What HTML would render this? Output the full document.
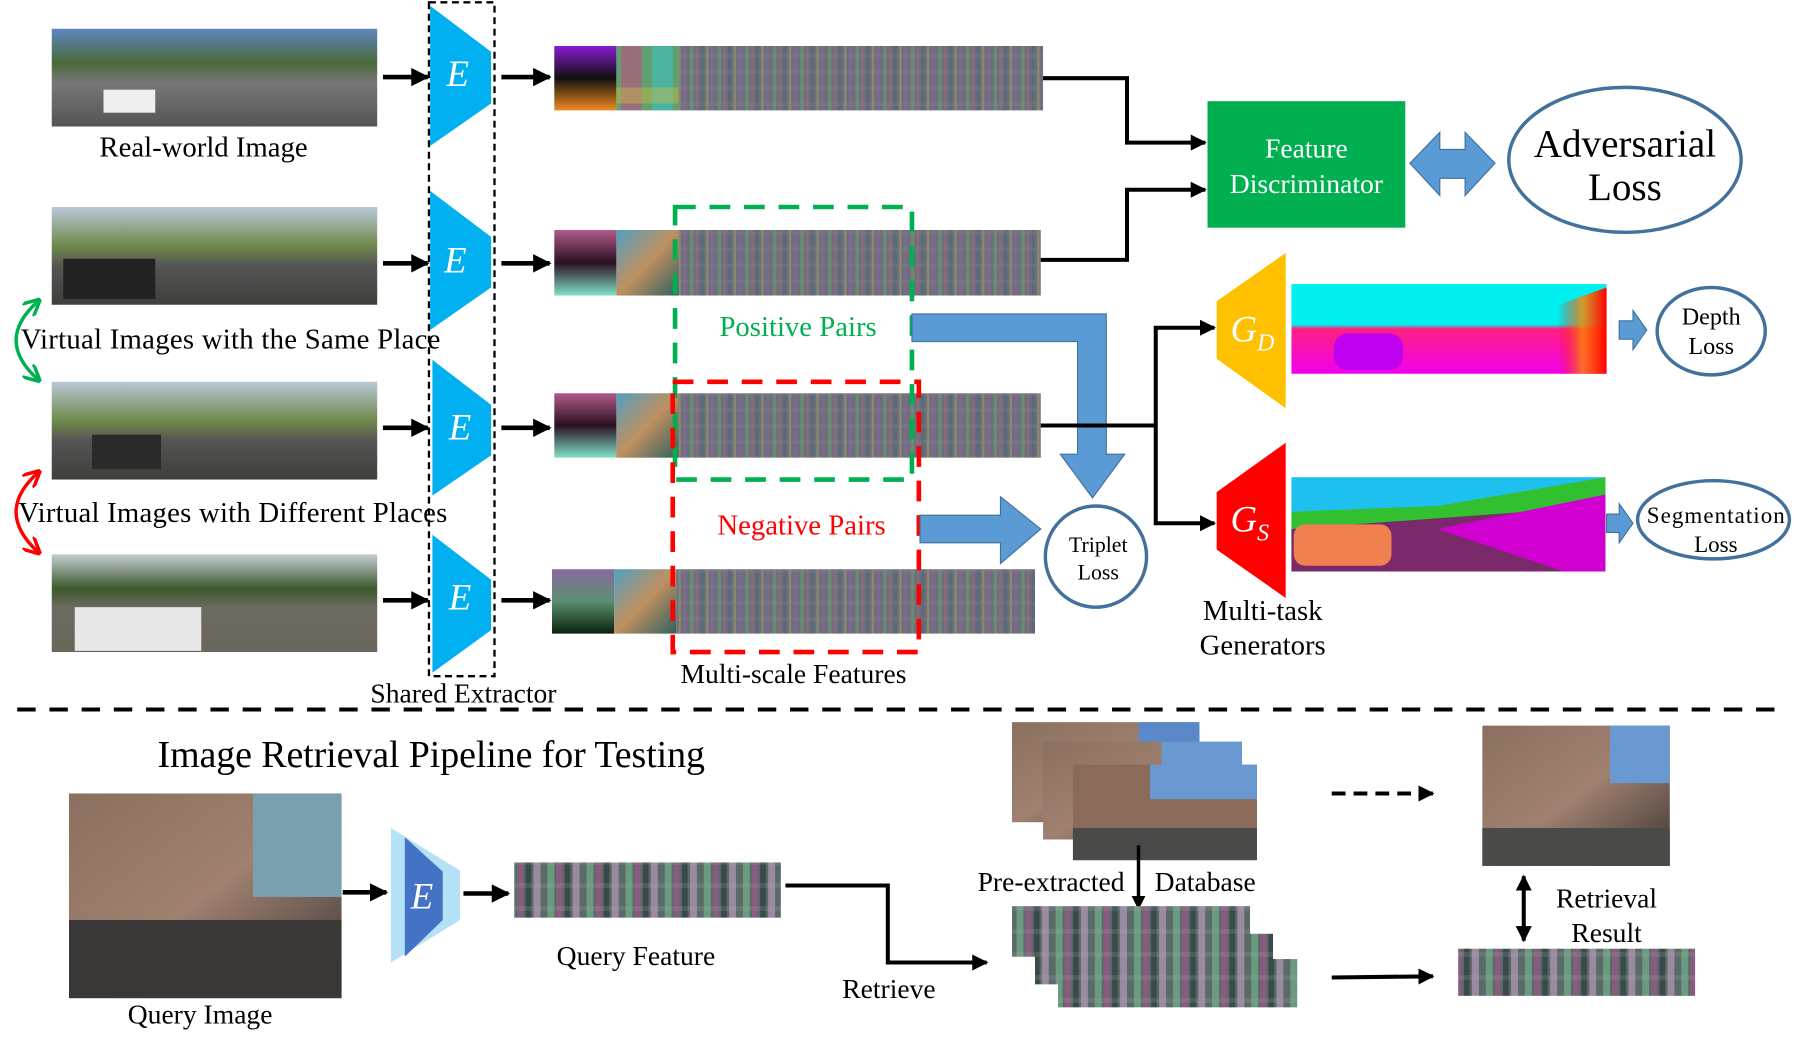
<!DOCTYPE html>
<html><head><meta charset="utf-8"><style>
html,body{margin:0;padding:0;background:#fff;overflow:hidden}
svg{display:block}
text{font-family:"Liberation Serif",serif;fill:#000}
</style></head><body>
<svg width="1794" height="1043" viewBox="0 0 1560 907" preserveAspectRatio="none" xmlns="http://www.w3.org/2000/svg">
<defs>
<linearGradient id="road" x1="0" y1="0" x2="0" y2="1"><stop offset="0" stop-color="#b9c8d8"/><stop offset="0.4" stop-color="#6f8a4a"/><stop offset="0.6" stop-color="#555"/><stop offset="1" stop-color="#3e3e3a"/></linearGradient>
<linearGradient id="road1" x1="0" y1="0" x2="0" y2="1"><stop offset="0" stop-color="#5f86c0"/><stop offset="0.35" stop-color="#4a6a3a"/><stop offset="0.55" stop-color="#777"/><stop offset="1" stop-color="#555"/></linearGradient>
<linearGradient id="road4" x1="0" y1="0" x2="0" y2="1"><stop offset="0" stop-color="#c5ccd2"/><stop offset="0.35" stop-color="#3c5a2c"/><stop offset="0.55" stop-color="#6d6a60"/><stop offset="1" stop-color="#6a665c"/></linearGradient>
<linearGradient id="bld" x1="0" y1="0" x2="1" y2="1"><stop offset="0" stop-color="#8a7060"/><stop offset="0.5" stop-color="#a08070"/><stop offset="1" stop-color="#3a3634"/></linearGradient>
<linearGradient id="f1" x1="0" y1="0" x2="0" y2="1"><stop offset="0" stop-color="#8a1ad0"/><stop offset="0.5" stop-color="#101010"/><stop offset="1" stop-color="#f08a20"/></linearGradient>
<linearGradient id="f2" x1="0" y1="0" x2="0" y2="1"><stop offset="0" stop-color="#b05a8a"/><stop offset="0.5" stop-color="#2a1020"/><stop offset="1" stop-color="#80e0c8"/></linearGradient>
<linearGradient id="f4" x1="0" y1="0" x2="0" y2="1"><stop offset="0" stop-color="#8a6aa0"/><stop offset="0.5" stop-color="#5a9070"/><stop offset="1" stop-color="#0a200a"/></linearGradient>
<linearGradient id="g2" x1="0" y1="0" x2="1" y2="1"><stop offset="0" stop-color="#50a0c0"/><stop offset="0.5" stop-color="#c09060"/><stop offset="1" stop-color="#306060"/></linearGradient>
<pattern id="noise" width="24" height="14" patternUnits="userSpaceOnUse">
<rect width="24" height="14" fill="#6e6e78"/><rect x="0" width="3" height="14" fill="#6a8a78"/><rect x="5" width="2" height="14" fill="#8a6a80"/><rect x="9" width="3" height="14" fill="#5a6a7a"/><rect x="14" width="2" height="14" fill="#8a8a70"/><rect x="18" width="3" height="14" fill="#7a6a90"/><rect x="0" y="5" width="24" height="3" fill="#888" opacity="0.25"/>
</pattern>
<pattern id="noise2" width="34" height="20" patternUnits="userSpaceOnUse">
<rect width="34" height="20" fill="#5a6a68"/><rect x="0" width="6" height="20" fill="#6a9a80"/><rect x="8" width="5" height="20" fill="#8a5a80"/><rect x="15" width="5" height="20" fill="#3a4a4a"/><rect x="22" width="6" height="20" fill="#9a8aa0"/><rect x="0" y="8" width="34" height="4" fill="#aaa" opacity="0.2"/>
</pattern>
<pattern id="rainbow" width="54" height="56" patternUnits="userSpaceOnUse">
<rect width="54" height="56" fill="#60a070"/><rect width="18" height="56" fill="#c05080" opacity=".6"/><rect x="27" width="18" height="56" fill="#40c0c0" opacity=".6"/><rect y="20" width="54" height="14" fill="#d0c040" opacity=".4"/>
</pattern>
<marker id="ah" viewBox="0 0 10 10" refX="9" refY="5" markerWidth="4" markerHeight="4" orient="auto"><path d="M0,0L10,5L0,10z" fill="#000"/></marker>
<marker id="ahg" viewBox="0 0 10 10" refX="8" refY="5" markerWidth="5" markerHeight="5" orient="auto-start-reverse"><path d="M0,0L10,5L0,10" fill="none" stroke="#00b050" stroke-width="2"/></marker>
<marker id="ahr" viewBox="0 0 10 10" refX="8" refY="5" markerWidth="5" markerHeight="5" orient="auto-start-reverse"><path d="M0,0L10,5L0,10" fill="none" stroke="#f00" stroke-width="2"/></marker>
<linearGradient id="dep" x1="0" y1="0" x2="0" y2="1"><stop offset="0" stop-color="#00f0f0"/><stop offset="0.45" stop-color="#00f0f0"/><stop offset="0.5" stop-color="#ff2080"/><stop offset="1" stop-color="#f000f0"/></linearGradient>
<linearGradient id="dep2" x1="0" y1="0" x2="1" y2="0"><stop offset="0" stop-color="#f00" stop-opacity="0"/><stop offset="0.6" stop-color="#f00" stop-opacity="0"/><stop offset="0.8" stop-color="#f80" stop-opacity="0.8"/><stop offset="1" stop-color="#f00"/></linearGradient>
</defs>

<rect x="45" y="25" width="283" height="85" fill="url(#road1)"/>
<rect x="90" y="78" width="45" height="20" fill="#eee"/>
<rect x="45" y="180" width="283" height="85" fill="url(#road)"/>
<rect x="55" y="225" width="80" height="35" fill="#222"/>
<rect x="45" y="332" width="283" height="85" fill="url(#road)"/>
<rect x="80" y="378" width="60" height="30" fill="#2a2a2a"/>
<rect x="45" y="482" width="283" height="85" fill="url(#road4)"/>
<rect x="65" y="528" width="110" height="38" fill="#e8e8e8"/>
<text x="177" y="136" font-size="25" text-anchor="middle">Real-world Image</text>
<text x="18" y="303" font-size="25" textLength="365">Virtual Images with the Same Place</text>
<text x="16" y="454" font-size="25" textLength="373">Virtual Images with Different Places</text>
<path d="M33,262 Q-5,296 33,330" fill="none" stroke="#00b050" stroke-width="3" marker-start="url(#ahg)" marker-end="url(#ahg)"/>
<path d="M33,411 Q-5,445 33,480" fill="none" stroke="#f00" stroke-width="3" marker-start="url(#ahr)" marker-end="url(#ahr)"/>

<g stroke="#000" stroke-width="4" marker-end="url(#ah)">
<line x1="333" y1="67" x2="372" y2="67"/><line x1="333" y1="229" x2="372" y2="229"/><line x1="333" y1="372" x2="372" y2="372"/><line x1="333" y1="522" x2="372" y2="522"/>
<line x1="436" y1="67" x2="478" y2="67"/><line x1="436" y1="229" x2="478" y2="229"/><line x1="436" y1="372" x2="478" y2="372"/><line x1="436" y1="522" x2="478" y2="522"/>
</g>
<rect x="373" y="2" width="57" height="586" fill="none" stroke="#000" stroke-width="2" stroke-dasharray="6,4"/>
<g fill="#00b0f0">
<polygon points="374,5 427,45 427,90 374,127"/><polygon points="374,166 427,206 427,250 374,287"/><polygon points="376,313 427,352 427,396 376,431"/><polygon points="376,465 427,504 427,548 376,585"/>
</g>
<g font-style="italic" font-size="32" text-anchor="middle">
<text x="398" y="75" style="fill:#fff">E</text><text x="396" y="237" style="fill:#fff">E</text><text x="400" y="382" style="fill:#fff">E</text><text x="400" y="530" style="fill:#fff">E</text>
</g>
<text x="403" y="611" font-size="24" text-anchor="middle">Shared Extractor</text>

<rect x="482" y="40" width="54" height="56" fill="url(#f1)"/><rect x="536" y="40" width="54" height="56" fill="url(#rainbow)"/><rect x="590" y="40" width="317" height="56" fill="url(#noise)"/>
<rect x="482" y="200" width="54" height="57" fill="url(#f2)"/><rect x="536" y="200" width="54" height="57" fill="url(#g2)"/><rect x="590" y="200" width="315" height="57" fill="url(#noise)"/>
<rect x="482" y="342" width="54" height="56" fill="url(#f2)"/><rect x="536" y="342" width="54" height="56" fill="url(#g2)"/><rect x="590" y="342" width="315" height="56" fill="url(#noise)"/>
<rect x="480" y="495" width="54" height="56" fill="url(#f4)"/><rect x="534" y="495" width="54" height="56" fill="url(#g2)"/><rect x="588" y="495" width="312" height="56" fill="url(#noise)"/>
<rect x="587" y="180" width="206" height="237" fill="none" stroke="#00b050" stroke-width="4" stroke-dasharray="18,12"/>
<rect x="585" y="332" width="214" height="235" fill="none" stroke="#f00" stroke-width="4" stroke-dasharray="18,12"/>
<text x="694" y="292" font-size="25" text-anchor="middle" style="fill:#00b050">Positive Pairs</text>
<text x="697" y="465" font-size="25" text-anchor="middle" style="fill:#f00">Negative Pairs</text>
<text x="690" y="594" font-size="24" text-anchor="middle">Multi-scale Features</text>

<path d="M793,273 L962,273 L962,395 L978,395 L950,433 L922,395 L937,395 L937,297 L793,297Z" fill="#5b9bd5" stroke="#41719c" stroke-width="1"/>
<path d="M800,448 L870,448 L870,432 L905,460 L870,490 L870,472 L800,472Z" fill="#5b9bd5" stroke="#41719c" stroke-width="1"/>
<ellipse cx="953" cy="484" rx="44" ry="44" fill="#fff" stroke="#41719c" stroke-width="3"/>
<text x="955" y="480" font-size="19" text-anchor="middle">Triplet</text><text x="955" y="504" font-size="19" text-anchor="middle">Loss</text>

<g fill="none" stroke="#000" stroke-width="3.5">
<polyline points="907,68 980,68 980,124 1048,124" marker-end="url(#ah)"/>
<polyline points="905,226 980,226 980,165 1048,165" marker-end="url(#ah)"/>
<line x1="905" y1="370" x2="1005" y2="370"/>
<polyline points="1005,370 1005,285 1056,285" marker-end="url(#ah)"/>
<polyline points="1005,370 1005,455 1056,455" marker-end="url(#ah)"/>
</g>
<rect x="1050" y="88" width="172" height="110" fill="#00b050"/>
<text x="1136" y="137" font-size="24" text-anchor="middle" style="fill:#fff">Feature</text>
<text x="1136" y="168" font-size="24" text-anchor="middle" style="fill:#fff">Discriminator</text>
<path d="M1226,142 L1252,115 L1252,130 L1274,130 L1274,115 L1300,142 L1274,170 L1274,155 L1252,155 L1252,170Z" fill="#5b9bd5" stroke="#41719c"/>
<ellipse cx="1413" cy="139" rx="101" ry="63" fill="#fff" stroke="#41719c" stroke-width="3"/>
<text x="1413" y="136" font-size="34" text-anchor="middle">Adversarial</text>
<text x="1413" y="174" font-size="34" text-anchor="middle">Loss</text>

<polygon points="1118,220 1118,355 1058,312 1058,262" fill="#ffc000"/>
<text x="1070" y="297" font-size="32" font-style="italic" style="fill:#fff">G<tspan font-size="21" dy="8" style="fill:#fff">D</tspan></text>
<polygon points="1118,385 1118,520 1058,478 1058,428" fill="#f00"/>
<text x="1070" y="462" font-size="32" font-style="italic" style="fill:#fff">G<tspan font-size="21" dy="8" style="fill:#fff">S</tspan></text>
<rect x="1123" y="247" width="274" height="78" fill="url(#dep)"/>
<polygon points="1290,325 1300,285 1397,250 1397,325" fill="url(#dep2)"/>
<rect x="1160" y="290" width="60" height="32" rx="12" fill="#c000f0"/>
<path d="M1408,279 L1420,279 L1420,270 L1432,287 L1420,304 L1420,295 L1408,295Z" fill="#5b9bd5" stroke="#41719c"/>
<ellipse cx="1488" cy="288" rx="47" ry="38" fill="#fff" stroke="#41719c" stroke-width="3"/>
<text x="1488" y="282" font-size="21" text-anchor="middle">Depth</text><text x="1488" y="308" font-size="21" text-anchor="middle">Loss</text>

<rect x="1123" y="415" width="273" height="82" fill="#1ec0f0"/>
<polygon points="1123,445 1250,440 1396,415 1396,465 1123,470" fill="#30c030"/>
<polygon points="1123,460 1396,440 1396,497 1123,497" fill="#7a2a6a"/>
<polygon points="1250,460 1396,430 1396,497 1360,497" fill="#d000d0"/>
<rect x="1125" y="456" width="85" height="36" rx="10" fill="#f08050"/>
<path d="M1397,447 L1408,447 L1408,438 L1420,455 L1408,472 L1408,463 L1397,463Z" fill="#5b9bd5" stroke="#41719c"/>
<ellipse cx="1490" cy="452" rx="66" ry="34" fill="#fff" stroke="#41719c" stroke-width="3"/>
<text x="1492" y="455" font-size="20" text-anchor="middle" textLength="120">Segmentation</text><text x="1492" y="480" font-size="20" text-anchor="middle">Loss</text>
<text x="1098" y="539" font-size="25" text-anchor="middle">Multi-task</text>
<text x="1098" y="569" font-size="25" text-anchor="middle">Generators</text>

<line x1="15" y1="617" x2="1552" y2="617" stroke="#000" stroke-width="3.5" stroke-dasharray="16,12"/>

<text x="137" y="667" font-size="33" textLength="476">Image Retrieval Pipeline for Testing</text>
<rect x="60" y="690" width="237" height="178" fill="url(#bld)"/>
<rect x="220" y="690" width="77" height="90" fill="#7aa0b0"/>
<rect x="60" y="800" width="237" height="68" fill="#3a3836"/>
<text x="174" y="890" font-size="24" text-anchor="middle">Query Image</text>
<g stroke="#000" stroke-width="4" marker-end="url(#ah)">
<line x1="298" y1="776" x2="336" y2="776"/><line x1="403" y1="777" x2="442" y2="777"/>
</g>
<polygon points="340,720 400,757 400,800 340,837" fill="#b4e1f5"/>
<polygon points="352,728 385,758 385,800 352,832" fill="#4472c4"/>
<text x="367" y="790" font-size="32" font-style="italic" text-anchor="middle" style="fill:#fff">E</text>
<rect x="447" y="750" width="232" height="48" fill="url(#noise2)"/>
<text x="553" y="839" font-size="24" text-anchor="middle">Query Feature</text>
<polyline points="683,770 772,770 772,837 858,837" fill="none" stroke="#000" stroke-width="3.5" marker-end="url(#ah)"/>
<text x="773" y="868" font-size="24" text-anchor="middle">Retrieve</text>

<rect x="880" y="628" width="163" height="87" fill="url(#bld)"/><rect x="990" y="628" width="53" height="30" fill="#5a88c8"/>
<rect x="907" y="645" width="173" height="85" fill="url(#bld)"/><rect x="1010" y="645" width="70" height="30" fill="#6a98d0"/>
<rect x="933" y="665" width="160" height="83" fill="#8a6a58"/><rect x="1000" y="665" width="93" height="30" fill="#6a98d0"/><rect x="933" y="720" width="160" height="28" fill="#4a4a48"/>
<line x1="990" y1="735" x2="990" y2="790" stroke="#000" stroke-width="3" marker-end="url(#ah)"/>
<text x="914" y="775" font-size="24" text-anchor="middle">Pre-extracted</text>
<text x="1048" y="775" font-size="24" text-anchor="middle">Database</text>
<rect x="880" y="788" width="207" height="44" fill="url(#noise2)"/>
<rect x="900" y="812" width="207" height="44" fill="url(#noise2)"/>
<rect x="920" y="834" width="208" height="42" fill="url(#noise2)"/>
<line x1="1158" y1="850" x2="1246" y2="849" stroke="#000" stroke-width="3.5" marker-end="url(#ah)"/>
<line x1="1158" y1="690" x2="1246" y2="690" stroke="#000" stroke-width="3.5" stroke-dasharray="12,7" marker-end="url(#ah)"/>
<rect x="1289" y="631" width="163" height="122" fill="url(#bld)"/><rect x="1400" y="631" width="52" height="50" fill="#6a98d0"/><rect x="1289" y="720" width="163" height="33" fill="#4a4a48"/>
<line x1="1325" y1="790" x2="1325" y2="762" stroke="#000" stroke-width="3.5" marker-end="url(#ah)"/>
<line x1="1325" y1="790" x2="1325" y2="818" stroke="#000" stroke-width="3.5" marker-end="url(#ah)"/>
<text x="1397" y="789" font-size="24" text-anchor="middle">Retrieval</text>
<text x="1397" y="819" font-size="24" text-anchor="middle">Result</text>
<rect x="1268" y="825" width="206" height="41" fill="url(#noise2)"/>
</svg>
</body></html>
